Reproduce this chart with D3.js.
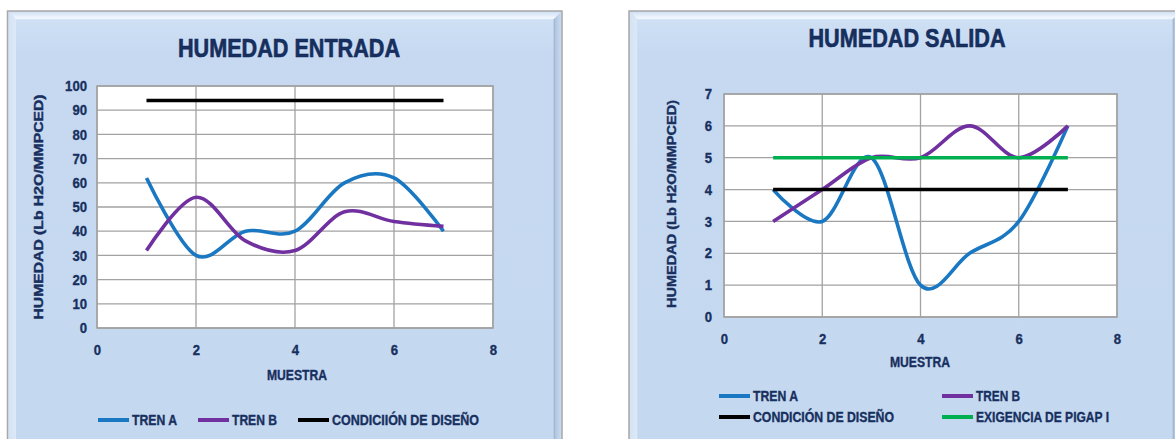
<!DOCTYPE html>
<html>
<head>
<meta charset="utf-8">
<script src="https://cdn.jsdelivr.net/npm/d3@7"></script>
<style>
  html, body { margin: 0; padding: 0; background: #ffffff; }
  svg { display: block; }
  text { font-family: "Liberation Sans", Arial, sans-serif; font-weight: bold; fill: #17305e; }
</style>
</head>
<body>
<svg id="chart" width="1175" height="439"></svg>
<script>
// Muestras (eje X) comunes a ambos gráficos
const muestras = [1, 2, 3, 4, 5, 6, 7];

// Humedad de entrada (Lb H2O/MMPCED)
const entradaTrenA = [62, 30, 40, 40, 60, 62, 40];
const entradaTrenB = [32, 54, 36, 32, 48, 44, 42];
const entradaDiseno = [94, 94, 94, 94, 94, 94, 94];

// Humedad de salida (Lb H2O/MMPCED)
const salidaTrenA = [4, 3, 5, 1, 2, 3, 6];
const salidaTrenB = [3, 4, 5, 5, 6, 5, 6];
const salidaDiseno = [4, 4, 4, 4, 4, 4, 4];
const salidaPigap = [5, 5, 5, 5, 5, 5, 5];

// Marcas de los ejes
const ticksX = [0, 2, 4, 6, 8];
const ticksEntradaY = [0, 10, 20, 30, 40, 50, 60, 70, 80, 90, 100];
const ticksSalidaY = [0, 1, 2, 3, 4, 5, 6, 7];

const COLORS = {
  trenA: "#1a78c2",
  trenB: "#7030a0",
  diseno: "#000000",
  pigap: "#00b050"
};
const TEXT = "#1a2f5e";

const svg = d3.select("#chart");
const defs = svg.append("defs");

// Degradados del marco biselado
function grad(id, x2, y2, stops) {
  const g = defs.append("linearGradient").attr("id", id)
    .attr("x1", 0).attr("y1", 0).attr("x2", x2).attr("y2", y2);
  stops.forEach(([o, c]) => g.append("stop").attr("offset", o).attr("stop-color", c));
}
grad("bevTop", 0, 1, [[0, "#d2e1f3"], [0.6, "#e9f2fc"], [1, "#f4f9ff"]]);
grad("bevLeft", 1, 0, [[0, "#d4e2f4"], [1, "#dde9f7"]]);
grad("bevRight", 1, 0, [[0, "#94a8c4"], [0.25, "#b3c6e0"], [1, "#c9dbf1"]]);
grad("bevBottom", 0, 1, [[0, "#a9bcd6"], [1, "#c9dbf1"]]);
grad("face", 0, 1, [[0, "#cfe0f4"], [0.08, "#c6d9f1"], [1, "#c4d8f0"]]);

// Panel con borde gris y bisel
function panel(x0, y0, x1, y1, b) {
  const g = svg.append("g");
  g.append("rect").attr("x", x0).attr("y", y0).attr("width", x1 - x0).attr("height", y1 - y0)
    .attr("fill", "#c6d9f1").attr("stroke", "#a8a8a8").attr("stroke-width", 1.5);
  const ix0 = x0 + b, iy0 = y0 + b, ix1 = x1 - b, iy1 = y1 - b;
  const poly = (pts, fill) => g.append("polygon").attr("points", pts.map(p => p.join(",")).join(" ")).attr("fill", fill);
  poly([[x0 + 1, y0 + 1], [x1 - 1, y0 + 1], [ix1, iy0], [ix0, iy0]], "url(#bevTop)");
  poly([[x0 + 1, y0 + 1], [ix0, iy0], [ix0, iy1], [x0 + 1, y1 - 1]], "url(#bevLeft)");
  poly([[x1 - 1, y0 + 1], [x1 - 1, y1 - 1], [ix1, iy1], [ix1, iy0]], "url(#bevRight)");
  poly([[x0 + 1, y1 - 1], [ix0, iy1], [ix1, iy1], [x1 - 1, y1 - 1]], "url(#bevBottom)");
  g.append("rect").attr("x", ix0).attr("y", iy0).attr("width", ix1 - ix0).attr("height", iy1 - iy0)
    .attr("fill", "url(#face)");
  return g;
}

panel(7.5, 11, 562, 448, 8.5);
panel(629, 11, 1181, 448, 8.5);

// Texto en negrita condensada con trazo ligero para darle más peso
function boldText(sel, size, len, weightStroke) {
  sel.attr("font-size", size).attr("fill", TEXT)
    .attr("stroke", TEXT).attr("stroke-width", weightStroke)
    .attr("lengthAdjust", "spacingAndGlyphs");
  if (len) sel.attr("textLength", len);
  return sel;
}

// Dibuja un gráfico de líneas suavizadas
function lineChart(cfg) {
  const x = d3.scaleLinear().domain([0, 8]).range([cfg.left, cfg.right]);
  const y = d3.scaleLinear().domain(cfg.yDomain).range([cfg.bottom, cfg.top]);
  const g = svg.append("g");

  // Área de trazado
  g.append("rect").attr("x", cfg.left).attr("y", cfg.top)
    .attr("width", cfg.right - cfg.left).attr("height", cfg.bottom - cfg.top)
    .attr("fill", "#ffffff");

  // Cuadrícula
  g.selectAll(".gy").data(cfg.yTicks).join("line")
    .attr("x1", cfg.left).attr("x2", cfg.right)
    .attr("y1", d => y(d)).attr("y2", d => y(d))
    .attr("stroke", "#a2a2a2").attr("stroke-width", 1.3);
  g.selectAll(".gx").data(ticksX).join("line")
    .attr("x1", d => x(d)).attr("x2", d => x(d))
    .attr("y1", cfg.top).attr("y2", cfg.bottom)
    .attr("stroke", "#a2a2a2").attr("stroke-width", 1.3);
  g.append("rect").attr("x", cfg.left).attr("y", cfg.top)
    .attr("width", cfg.right - cfg.left).attr("height", cfg.bottom - cfg.top)
    .attr("fill", "none").attr("stroke", "#a2a2a2").attr("stroke-width", 1.5);

  // Etiquetas de marcas
  const fmt = d3.format("d");
  const yAxis = d3.axisLeft(y).tickValues(cfg.yTicks).tickFormat(fmt).tickSize(0).tickPadding(cfg.yPad);
  const ya = g.append("g").attr("transform", `translate(${cfg.left},0)`).call(yAxis);
  const xAxis = d3.axisBottom(x).tickValues(ticksX).tickFormat(fmt).tickSize(0).tickPadding(cfg.xPad);
  const xa = g.append("g").attr("transform", `translate(0,${cfg.bottom})`).call(xAxis);
  [ya, xa].forEach(a => {
    a.select(".domain").remove();
    a.selectAll("text")
      .attr("font-family", "Liberation Sans, Arial, sans-serif").attr("font-weight", "bold")
      .each(function (d) {
        const s = fmt(d);
        boldText(d3.select(this), 14.5, s.length * 7.3, 0.35);
      });
  });

  // Series
  cfg.series.forEach(s => {
    const line = d3.line()
      .x((d, i) => x(muestras[i]))
      .y(d => y(d))
      .curve(s.smooth ? d3.curveCardinal.tension(0) : d3.curveLinear);
    g.append("path").datum(s.values)
      .attr("d", line)
      .attr("fill", "none").attr("stroke", s.color).attr("stroke-width", 3.6)
      .attr("stroke-linecap", "butt").attr("stroke-linejoin", "round");
  });

  // Títulos
  boldText(g.append("text").attr("x", cfg.titleX).attr("y", cfg.titleY)
    .attr("text-anchor", "middle").attr("dominant-baseline", "central"), 25, cfg.titleLen, 0.6)
    .attr("fill", "#0f2658").attr("stroke", "#0f2658")
    .text(cfg.title);
  boldText(g.append("text").attr("transform", `translate(${cfg.yLabelX},${cfg.yLabelY}) rotate(-90)`)
    .attr("text-anchor", "middle").attr("dominant-baseline", "central"), 13.5, cfg.yLabelLen, 0.4)
    .text("HUMEDAD (Lb H2O/MMPCED)");
  boldText(g.append("text").attr("x", cfg.xLabelX).attr("y", cfg.xLabelY)
    .attr("text-anchor", "middle").attr("dominant-baseline", "central"), 14.5, 60, 0.35)
    .text("MUESTRA");

  // Leyenda
  cfg.legend.forEach(item => {
    g.append("line").attr("x1", item.x).attr("x2", item.x + 31)
      .attr("y1", item.y).attr("y2", item.y)
      .attr("stroke", item.color).attr("stroke-width", 4);
    boldText(g.append("text").attr("x", item.x + 34).attr("y", item.y)
      .attr("dominant-baseline", "central"), 14.5, item.len, 0.35)
      .text(item.label);
  });
}

lineChart({
  title: "HUMEDAD ENTRADA", titleX: 289, titleY: 48, titleLen: 222,
  left: 97, right: 493, top: 86, bottom: 328,
  yDomain: [0, 100], yTicks: ticksEntradaY, yPad: 10, xPad: 17,
  yLabelX: 38, yLabelY: 207, yLabelLen: 225,
  xLabelX: 297, xLabelY: 375,
  series: [
    { values: entradaTrenA, color: COLORS.trenA, smooth: true },
    { values: entradaTrenB, color: COLORS.trenB, smooth: true },
    { values: entradaDiseno, color: COLORS.diseno, smooth: false }
  ],
  legend: [
    { x: 98, y: 420, color: COLORS.trenA, label: "TREN A", len: 45 },
    { x: 198, y: 420, color: COLORS.trenB, label: "TREN B", len: 45 },
    { x: 298, y: 420, color: COLORS.diseno, label: "CONDICIIÓN DE DISEÑO", len: 147 }
  ]
});

lineChart({
  title: "HUMEDAD SALIDA", titleX: 907, titleY: 38, titleLen: 197,
  left: 724, right: 1117, top: 94, bottom: 317,
  yDomain: [0, 7], yTicks: ticksSalidaY, yPad: 12, xPad: 17,
  yLabelX: 671, yLabelY: 204, yLabelLen: 208,
  xLabelX: 920, xLabelY: 362,
  series: [
    { values: salidaTrenA, color: COLORS.trenA, smooth: true },
    { values: salidaTrenB, color: COLORS.trenB, smooth: true },
    { values: salidaDiseno, color: COLORS.diseno, smooth: false },
    { values: salidaPigap, color: COLORS.pigap, smooth: false }
  ],
  legend: [
    { x: 719, y: 396, color: COLORS.trenA, label: "TREN A", len: 45 },
    { x: 942, y: 396, color: COLORS.trenB, label: "TREN B", len: 44 },
    { x: 719, y: 417, color: COLORS.diseno, label: "CONDICIÓN DE DISEÑO", len: 141 },
    { x: 942, y: 417, color: COLORS.pigap, label: "EXIGENCIA DE PIGAP I", len: 133 }
  ]
});
</script>
</body>
</html>
